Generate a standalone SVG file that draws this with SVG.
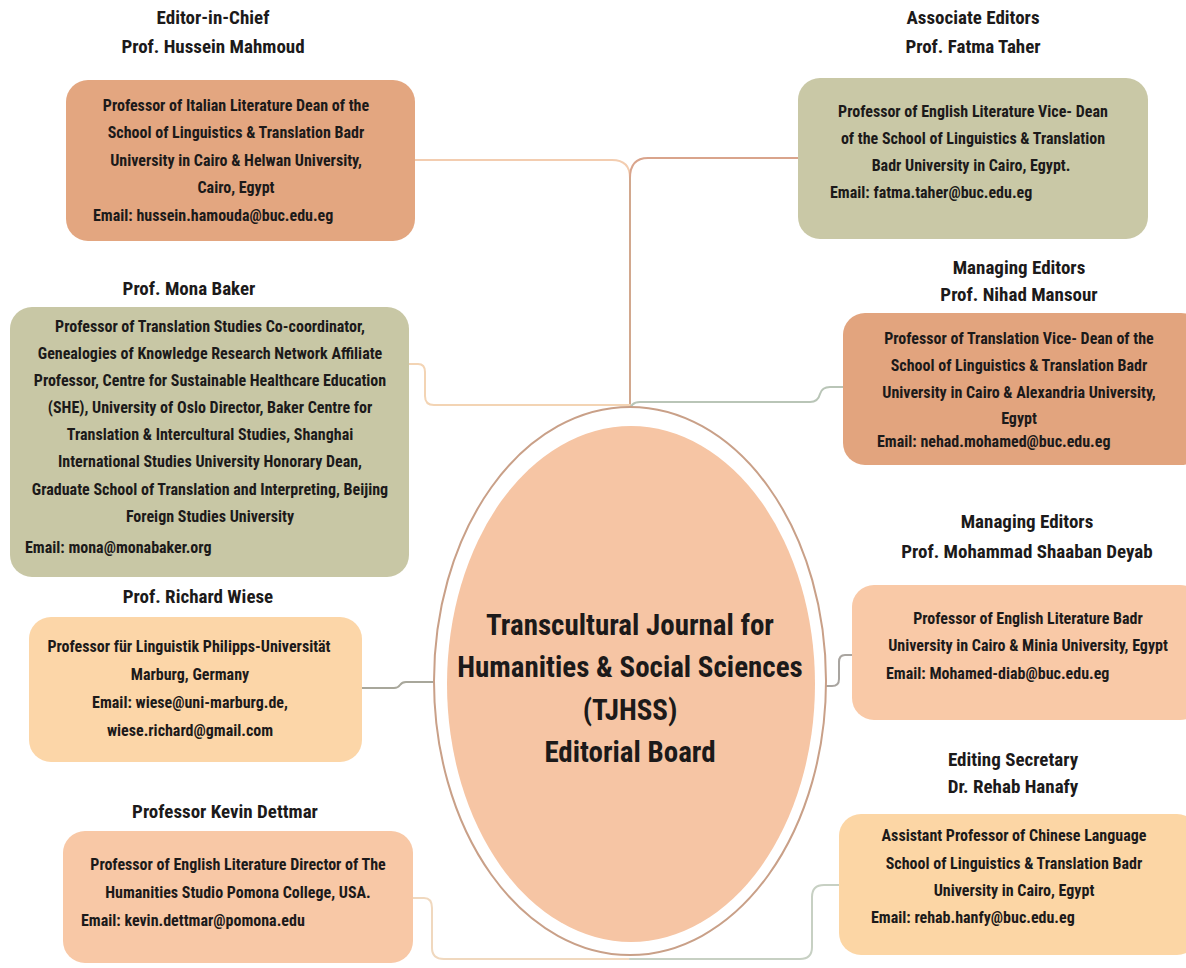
<svg xmlns="http://www.w3.org/2000/svg" width="1186" height="968" viewBox="0 0 1186 968">
<style>
text{font-family:"Liberation Sans Narrow","Roboto Condensed","DejaVu Sans Condensed","Liberation Sans",sans-serif;font-weight:bold;fill:#1c1a1a}
.t{font-size:19px;text-anchor:middle}
.b{font-size:16px;text-anchor:middle}
.e{font-size:16px;text-anchor:start}
.c{font-size:29px;text-anchor:middle}
.con{fill:none;stroke-width:2;stroke-linecap:round;stroke-linejoin:round}
</style>
<rect width="1186" height="968" fill="#ffffff"/>
<g id="connectors">
<path class="con" stroke="#F3CDB0" d="M415,160 H612 Q630,160 630,178"/>
<path class="con" stroke="#D9A48C" d="M798,158 H648 Q630,158 630,178"/>
<path class="con" stroke="#D2A88E" d="M630,178 V408"/>
<path class="con" stroke="#F3D4B4" d="M409,364 H418 Q425,364 425,372 V396 Q425,405 434,405 H630"/>
<path class="con" stroke="#B9C5B7" d="M843,387 H830 Q822,387 820,394 Q818,402 810,402 H640 Q630,402 630,412 V426"/>
<path class="con" stroke="#A8A79B" stroke-width="2.5" d="M362,688 H394 Q398,688 400,685 Q402,682 406,682 H436"/>
<path class="con" stroke="#A9A5A0" stroke-width="2.5" d="M852,655 H845 Q839,655 839,662 V679 Q839,686 832,686 H826"/>
<path class="con" stroke="#F0D8BE" d="M413,898 H424 Q432,898 432,908 V948 Q432,959 444,959 H630"/>
<path class="con" stroke="#C7D0C3" d="M840,885 H824 Q812,885 812,897 V947 Q812,959 800,959 H630"/>
</g>
<g id="center">
<ellipse cx="630" cy="681" rx="196" ry="274" fill="#ffffff" stroke="#C9A088" stroke-width="2"/>
<ellipse cx="631" cy="684" rx="184" ry="258" fill="#F6C5A4"/>
<text class="c" x="630" y="635">Transcultural Journal for</text>
<text class="c" x="630" y="677">Humanities &amp; Social Sciences</text>
<text class="c" x="630" y="720">(TJHSS)</text>
<text class="c" x="630" y="762">Editorial Board</text>
</g>
<g id="editor-in-chief">
<text class="t" x="213" y="24">Editor-in-Chief</text>
<text class="t" x="213" y="53">Prof. Hussein Mahmoud</text>
<rect x="66" y="80" width="349" height="161" rx="22" fill="#E3A680"/>
<text class="b" x="236" y="111">Professor of Italian Literature Dean of the</text>
<text class="b" x="236" y="138">School of Linguistics &amp; Translation Badr</text>
<text class="b" x="236" y="166">University in Cairo &amp; Helwan University,</text>
<text class="b" x="236" y="193">Cairo, Egypt</text>
<text class="e" x="93" y="221">Email: hussein.hamouda@buc.edu.eg</text>
</g>
<g id="associate-editors">
<text class="t" x="973" y="24">Associate Editors</text>
<text class="t" x="973" y="53">Prof. Fatma Taher</text>
<rect x="798" y="78" width="350" height="161" rx="22" fill="#C9C8A6"/>
<text class="b" x="973" y="117">Professor of English Literature Vice- Dean</text>
<text class="b" x="973" y="144">of the School of Linguistics &amp; Translation</text>
<text class="b" x="971" y="171">Badr University in Cairo, Egypt.</text>
<text class="e" x="830" y="198">Email: fatma.taher@buc.edu.eg</text>
</g>
<g id="mona-baker">
<text class="t" x="189" y="295">Prof. Mona Baker</text>
<rect x="10" y="307" width="399" height="270" rx="22" fill="#C8C7A5"/>
<text class="b" x="210" y="332">Professor of Translation Studies Co-coordinator,</text>
<text class="b" x="210" y="359">Genealogies of Knowledge Research Network Affiliate</text>
<text class="b" x="210" y="386">Professor, Centre for Sustainable Healthcare Education</text>
<text class="b" x="210" y="413">(SHE), University of Oslo Director, Baker Centre for</text>
<text class="b" x="210" y="440">Translation &amp; Intercultural Studies, Shanghai</text>
<text class="b" x="210" y="467">International Studies University Honorary Dean,</text>
<text class="b" x="210" y="495">Graduate School of Translation and Interpreting, Beijing</text>
<text class="b" x="210" y="522">Foreign Studies University</text>
<text class="e" x="25" y="553">Email: mona@monabaker.org</text>
</g>
<g id="richard-wiese">
<text class="t" x="198" y="603">Prof. Richard Wiese</text>
<rect x="29" y="617" width="333" height="145" rx="22" fill="#FCD6A8"/>
<text class="b" x="189" y="652">Professor für Linguistik Philipps-Universität</text>
<text class="b" x="190" y="680">Marburg, Germany</text>
<text class="b" x="190" y="708">Email: wiese@uni-marburg.de,</text>
<text class="b" x="190" y="736">wiese.richard@gmail.com</text>
</g>
<g id="kevin-dettmar">
<text class="t" x="225" y="818">Professor Kevin Dettmar</text>
<rect x="63" y="831" width="350" height="132" rx="22" fill="#F8C8A6"/>
<text class="b" x="238" y="870">Professor of English Literature Director of The</text>
<text class="b" x="238" y="898">Humanities Studio Pomona College, USA.</text>
<text class="e" x="81" y="926">Email: kevin.dettmar@pomona.edu</text>
</g>
<g id="nihad-mansour">
<text class="t" x="1019" y="274">Managing Editors</text>
<text class="t" x="1019" y="301">Prof. Nihad Mansour</text>
<rect x="843" y="313" width="360" height="152" rx="22" fill="#E2A47E"/>
<text class="b" x="1019" y="344">Professor of Translation Vice- Dean of the</text>
<text class="b" x="1019" y="371">School of Linguistics &amp; Translation Badr</text>
<text class="b" x="1019" y="398">University in Cairo &amp; Alexandria University,</text>
<text class="b" x="1019" y="424">Egypt</text>
<text class="e" x="877" y="447">Email: nehad.mohamed@buc.edu.eg</text>
</g>
<g id="mohammad-deyab">
<text class="t" x="1027" y="528">Managing Editors</text>
<text class="t" x="1027" y="558">Prof. Mohammad Shaaban Deyab</text>
<rect x="852" y="585" width="350" height="135" rx="22" fill="#F9C9A7"/>
<text class="b" x="1028" y="624">Professor of English Literature Badr</text>
<text class="b" x="1028" y="651">University in Cairo &amp; Minia University, Egypt</text>
<text class="e" x="886" y="679">Email: Mohamed-diab@buc.edu.eg</text>
</g>
<g id="rehab-hanafy">
<text class="t" x="1013" y="766">Editing Secretary</text>
<text class="t" x="1013" y="793">Dr. Rehab Hanafy</text>
<rect x="839" y="814" width="360" height="141" rx="22" fill="#FCD6A5"/>
<text class="b" x="1014" y="841">Assistant Professor of Chinese Language</text>
<text class="b" x="1014" y="869">School of Linguistics &amp; Translation Badr</text>
<text class="b" x="1014" y="896">University in Cairo, Egypt</text>
<text class="e" x="871" y="923">Email: rehab.hanfy@buc.edu.eg</text>
</g>
</svg>
